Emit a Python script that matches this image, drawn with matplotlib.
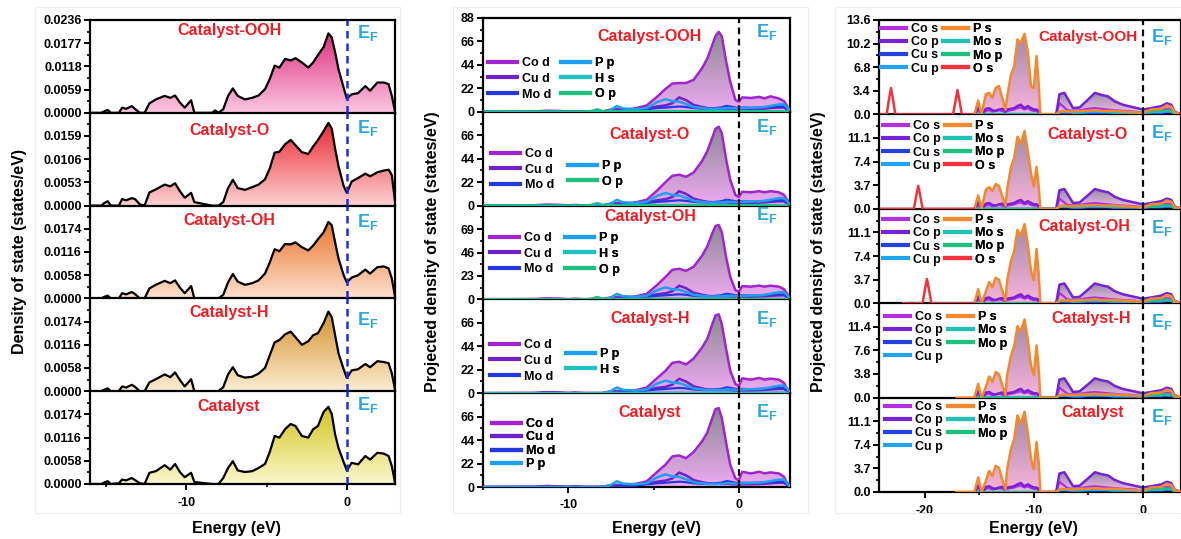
import numpy as np
import matplotlib
matplotlib.use('Agg')
import matplotlib.pyplot as plt
from matplotlib.colors import LinearSegmentedColormap
from matplotlib.ticker import MultipleLocator, AutoMinorLocator
from matplotlib.patches import Rectangle

plt.rcParams['font.family'] = ['Liberation Sans', 'DejaVu Sans']
plt.rcParams['font.weight'] = 'bold'
plt.rcParams['axes.unicode_minus'] = False
plt.rcParams['mathtext.fontset'] = 'custom'
plt.rcParams['mathtext.bf'] = 'Liberation Sans:bold'
plt.rcParams['mathtext.rm'] = 'Liberation Sans:bold'

# ---------------- data ----------------
names = ['Catalyst-OOH', 'Catalyst-O', 'Catalyst-OH', 'Catalyst-H', 'Catalyst']

# left column: total DOS (states/eV)
e_tot = [-16.0, -15.3, -15.1, -14.9, -14.7, -14.2, -14.0, -13.75, -13.4, -13.2, -12.9, -12.6,
         -12.3, -11.9, -11.35, -11.0, -10.7, -10.4, -10.1, -9.7, -9.5, -8.4, -8.2, -8.0, -7.7,
         -7.4, -7.1, -6.8, -6.35, -5.9, -5.5, -5.1, -4.8, -4.5, -4.2, -3.85, -3.5, -3.2, -2.8,
         -2.4, -2.1, -1.8, -1.45, -1.15, -0.94, -0.73, -0.52, -0.2, 0.0, 0.3, 0.7, 1.15, 1.45,
         1.9, 2.3, 2.6, 2.8, 3.0]
dos_ooh = [0, 0, 0.0004, 0.0007, 0, 0, 0.0013, 0.0010, 0.0017, 0.0010, 0, 0,
           0.0024, 0.0034, 0.0043, 0.0038, 0.0044, 0.0026, 0.0013, 0.0032, 0, 0, 0.0006, 0, 0.0009,
           0.0043, 0.0062, 0.0043, 0.0034, 0.0038, 0.0044, 0.0060, 0.0086, 0.0120, 0.0115, 0.0137,
           0.0133, 0.0139, 0.0128, 0.0115, 0.0128, 0.0147, 0.0167, 0.0202, 0.0192, 0.0154, 0.0111,
           0.0064, 0.0036, 0.0047, 0.0050, 0.0068, 0.0056, 0.0077, 0.0077, 0.0073, 0.0043, 0.0004]
dos_o = [0, 0, 0.0006, 0.0010, 0, 0, 0.0015, 0.0012, 0.0017, 0.0015, 0.0003, 0,
         0.0030, 0.0037, 0.0048, 0.0044, 0.0051, 0.0033, 0.0018, 0.0029, 0.0008, 0, 0, 0, 0.0008,
         0.0040, 0.0059, 0.0040, 0.0036, 0.0042, 0.0048, 0.0060, 0.0085, 0.0121, 0.0123, 0.0140,
         0.0150, 0.0138, 0.0122, 0.0118, 0.0135, 0.0150, 0.0170, 0.0189, 0.0176, 0.0130, 0.0090,
         0.0045, 0.0029, 0.0055, 0.0063, 0.0073, 0.0067, 0.0076, 0.0080, 0.0082, 0.0070, 0.0010]
dos_oh = [0, 0, 0.0004, 0.0007, 0, 0, 0.0013, 0.0010, 0.0016, 0.0011, 0, 0,
          0.0025, 0.0034, 0.0044, 0.0038, 0.0045, 0.0027, 0.0013, 0.0031, 0, 0, 0, 0, 0.0009,
          0.0040, 0.0061, 0.0042, 0.0034, 0.0038, 0.0045, 0.0062, 0.0090, 0.0123, 0.0118, 0.0136,
          0.0135, 0.0140, 0.0128, 0.0120, 0.0132, 0.0148, 0.0165, 0.0191, 0.0183, 0.0140, 0.0100,
          0.0058, 0.0040, 0.0052, 0.0058, 0.0072, 0.0062, 0.0078, 0.0080, 0.0075, 0.0050, 0.0005]
dos_h = [0, 0, 0.0004, 0.0007, 0, 0, 0.0012, 0.0009, 0.0016, 0.0011, 0, 0,
         0.0022, 0.0030, 0.0042, 0.0035, 0.0047, 0.0028, 0.0012, 0.0030, 0, 0, 0, 0, 0.0010,
         0.0042, 0.0060, 0.0040, 0.0034, 0.0036, 0.0044, 0.0058, 0.0090, 0.0122, 0.0128, 0.0142,
         0.0149, 0.0135, 0.0116, 0.0125, 0.0140, 0.0145, 0.0170, 0.0199, 0.0185, 0.0140, 0.0095,
         0.0055, 0.0033, 0.0052, 0.0055, 0.0068, 0.0060, 0.0075, 0.0073, 0.0070, 0.0045, 0.0004]
dos_cat = [0, 0, 0.0004, 0.0007, 0, 0.0002, 0.0011, 0.0009, 0.0015, 0.0010, 0.0002, 0,
           0.0028, 0.0032, 0.0047, 0.0036, 0.0050, 0.0030, 0.0017, 0.0028, 0.0005, 0, 0, 0, 0.0015,
           0.0040, 0.0057, 0.0034, 0.0030, 0.0032, 0.0040, 0.0050, 0.0080, 0.0120, 0.0116, 0.0137,
           0.0150, 0.0145, 0.0120, 0.0116, 0.0137, 0.0145, 0.0180, 0.0193, 0.0175, 0.0124, 0.0090,
           0.0055, 0.0034, 0.0053, 0.0049, 0.0070, 0.0061, 0.0078, 0.0076, 0.0070, 0.0045, 0.0004]
dos_tot = [dos_ooh, dos_o, dos_oh, dos_h, dos_cat]
tot_step = [0.0059, 0.0053, 0.0058, 0.0058, 0.0058]

# middle column: d/p projected DOS
e_pd = [-15, -12, -11.3, -10.5, -10.0, -9.6, -9.0, -8.0, -7.55, -7.15, -6.8, -6.4, -6.0, -5.4,
        -4.8, -4.3, -3.9, -3.5, -3.1, -2.65, -2.15, -1.85, -1.55, -1.37, -1.18, -1.0, -0.73,
        -0.5, -0.2, 0.0, 0.2, 0.7, 1.2, 1.5, 1.85, 2.35, 2.65, 2.85, 3.0]
cod_ooh = [0, 0.3, 1.0, 0.8, 0.2, 0.5, 0.1, 0.3, 2.0, 2.5, 2.2, 2.5, 3.5, 6,
           14, 21.5, 26.5, 27, 27, 30, 41, 50, 63, 71, 75, 71, 46,
           28, 11, 9.5, 13.5, 13, 14, 12.5, 14.5, 12.5, 10, 5, 0]
cod_o = [0, 0.3, 1.0, 0.7, 0.2, 0.6, 0.1, 0.3, 1.8, 2.3, 2.0, 2.3, 3.2, 5.5,
         14, 22, 28, 29, 27, 31, 42, 51, 64, 72, 74, 68, 42,
         24, 10, 8, 13, 12.5, 13.5, 12.5, 13.5, 12.5, 10, 5, 0]
cod_oh = [0, 0.3, 1.0, 0.7, 0.2, 0.6, 0.1, 0.3, 1.8, 2.3, 2.0, 2.3, 3.2, 5.5,
          14, 22, 29, 30, 28, 32, 43, 52, 65, 72, 73, 66, 40,
          22, 9, 7.5, 13, 12.5, 13.5, 12.5, 13.5, 12.5, 10, 5, 0]
cod_h = [0, 0.3, 1.0, 0.7, 0.2, 0.6, 0.1, 0.2, 1.7, 2.1, 2.0, 2.2, 3.0, 5.4,
         14, 21, 28.5, 29.5, 27, 32.5, 43, 51, 65, 73, 74, 65, 40,
         21, 8.5, 7, 14, 12.7, 14.3, 12.8, 13.7, 12.7, 9.6, 3.5, 0]
cod_cat = [0, 0.3, 1.0, 0.6, 0.2, 0.8, 0.1, 0.2, 1.6, 2.0, 2.0, 2.2, 3.0, 5.4,
           14, 21, 28.7, 29.6, 27, 32.8, 43, 51, 65, 73, 74, 65, 40,
           20.7, 8, 6.4, 14.3, 12.7, 14.3, 12.8, 13.7, 12.7, 9.6, 3.0, 0]
co_d = [cod_ooh, cod_o, cod_oh, cod_h, cod_cat]
cu_d = [0, 0, 0.3, 0.2, 0, 0.2, 0, 0, 0.5, 0.8, 0.8, 1.0, 2.0, 3.0,
        5.0, 6.0, 8.0, 13.5, 11, 6.5, 4.5, 3.5, 3.2, 3.0, 3.0, 3.0, 3.0,
        2.8, 2.5, 2.2, 2.5, 2.5, 2.8, 3.0, 3.5, 4.0, 4.0, 2.0, 0]
mo_d = [0, 0, 0.2, 0.1, 0, 0, 0, 0, 0.5, 1.0, 1.2, 1.3, 1.5, 2.5,
        3.5, 4.0, 4.5, 5.0, 4.5, 3.5, 3.0, 3.0, 3.2, 3.5, 3.8, 4.2, 5.5,
        5.0, 4.0, 3.8, 4.0, 3.8, 4.0, 4.2, 4.5, 5.0, 5.0, 2.5, 0]
p_p = [0, 0, 0, 0, 0, 0, 0, 0, 1.5, 5.4, 3.2, 2.8, 2.5, 3.5,
       9, 11.8, 10, 9.5, 7.3, 4.5, 3.5, 2.9, 2.8, 2.8, 3.0, 3.0, 3.5,
       3.5, 3.2, 3.2, 3.5, 3.8, 4.0, 4.5, 5.5, 7.0, 7.0, 4.0, 0]
h_s = [0, 0, 0, 0, 0, 0, 0, 0, 0.2, 0.4, 0.3, 0.3, 0.3, 0.4,
       0.5, 0.6, 0.6, 0.6, 0.5, 0.4, 0.4, 0.4, 0.4, 0.4, 0.4, 0.4, 0.5,
       0.5, 0.4, 0.4, 0.4, 0.4, 0.4, 0.5, 0.5, 0.6, 0.6, 0.3, 0]
e_op = [-15, -9.0, -8.6, -8.3, -8.0, -7.6, -5.0, -3.0, -1.0, 0.0, 2.0, 3.0]
o_p = [0, 0, 1.0, 2.5, 0.8, 0.4, 0.5, 0.6, 0.5, 0.4, 0.5, 0]
pd_step = [22, 22, 23, 22, 22]
has_h = [True, False, True, True, False]
has_o = [True, True, True, False, False]

# right column: s/p projected DOS
e_sp = [-15.45, -15.1, -14.8, -14.4, -14.1, -13.8, -13.5, -13.2, -12.9, -12.6, -12.45, -12.1,
        -11.8, -11.5, -11.2, -10.85, -10.55, -10.25, -10.0, -9.75, -9.55, -9.4, -7.95, -7.65,
        -7.2, -6.9, -6.4, -5.8, -5.05, -4.4, -3.8, -3.2, -2.6, -1.85, -0.8, 0.0, 0.75, 1.7,
        2.2, 2.6, 2.9, 3.5]
ps_tail = [0, 0.4, 0.5, 0.4, 0.4, 0.5, 0.5, 0.6, 0.5, 0.5, 0.5, 0.4, 0.3, 0.2, 0.7, 0.8,
           1.3, 1.1, 0.3, 0]
ps_ooh = [0, 2.0, 0, 2.9, 3.1, 2.4, 3.8, 4.1, 2.4, 0.7, 2.5, 5.7,
          6.9, 10.8, 10.3, 11.6, 9.0, 4.0, 3.8, 8.4, 4.3, 0] + ps_tail
ps_o = [0, 2.1, 0, 3.0, 3.4, 2.8, 3.9, 3.6, 2.0, 0.5, 3.0, 6.5,
        8.0, 11.3, 10.2, 12.2, 9.0, 5.5, 3.5, 6.6, 3.5, 0] + ps_tail
ps_oh = [0, 2.2, 0, 1.8, 3.3, 2.5, 4.0, 3.7, 2.0, 0.4, 3.5, 6.6,
         8.2, 11.5, 10.6, 12.4, 9.2, 5.0, 3.6, 8.5, 4.5, 0] + ps_tail
ps_h = [0, 2.2, 0, 1.7, 3.4, 2.5, 4.1, 3.8, 2.0, 0.4, 3.6, 6.7,
        8.3, 11.5, 10.7, 12.6, 9.3, 5.1, 3.6, 8.4, 4.6, 0] + ps_tail
ps_cat = [0, 2.3, 0, 1.7, 3.3, 2.5, 4.1, 3.8, 2.0, 0.4, 3.6, 6.7,
          8.3, 12.0, 10.7, 12.6, 9.3, 5.1, 3.6, 7.8, 4.6, 0] + ps_tail
p_s = [ps_ooh, ps_o, ps_oh, ps_h, ps_cat]
ps_start = [-15.5, -15.5, -15.5, -17.1, -17.1]
co_p = [0, 1.0, 0, 0.8, 0.9, 0.6, 0.5, 0.7, 0.8, 0.5, 0.7, 0.8,
        0.9, 1.2, 1.4, 0.9, 1.2, 0.9, 0.7, 0.7, 0.5, 0, 0, 2.9,
        3.1, 2.3, 0.9, 1.0, 2.1, 3.1, 2.8, 2.6, 1.9, 1.4, 1.0, 0.7, 0.9, 1.2,
        1.6, 1.4, 0.4, 0]
co_s = [0, 0.6, 0, 0.5, 0.6, 0.4, 0.5, 0.6, 0.5, 0.3, 0.5, 0.6,
        0.7, 0.9, 1.0, 0.7, 0.9, 0.6, 0.5, 0.5, 0.3, 0, 0, 1.6,
        1.0, 0.6, 0.5, 0.6, 0.8, 0.9, 0.8, 0.7, 0.6, 0.5, 0.4, 0.2, 0.5, 0.6,
        0.8, 0.7, 0.2, 0]
cu_s = [0, 0, 0, 0, 0, 0, 0, 0, 0, 0, 0, 0,
        0, 0, 0, 0, 0, 0, 0, 0, 0, 0, 0, 0.2,
        0.2, 0.2, 0.1, 0.1, 0.2, 0.2, 0.2, 0.2, 0.1, 0.1, 0.1, 0.1, 0.2, 0.2,
        0.3, 0.3, 0.1, 0]
cu_p = [0, 0, 0, 0, 0, 0, 0, 0, 0, 0, 0, 0,
        0, 0, 0, 0, 0, 0, 0, 0, 0, 0, 0, 0.3,
        0.3, 0.3, 0.2, 0.2, 0.3, 0.3, 0.3, 0.3, 0.2, 0.2, 0.2, 0.2, 0.3, 0.3,
        0.4, 0.4, 0.1, 0]
mo_s = [0, 0, 0, 0, 0, 0, 0, 0, 0, 0, 0, 0,
        0, 0, 0, 0, 0, 0, 0, 0, 0, 0, 0, 0.3,
        0.4, 0.4, 0.3, 0.3, 0.4, 0.5, 0.4, 0.3, 0.3, 0.3, 0.3, 0.2, 0.3, 0.4,
        0.5, 0.4, 0.1, 0]
mo_p = [0, 0, 0, 0, 0, 0, 0, 0, 0, 0, 0, 0,
        0, 0, 0, 0, 0, 0, 0, 0, 0, 0, 0, 0.4,
        0.5, 0.5, 0.4, 0.4, 0.5, 0.6, 0.5, 0.4, 0.4, 0.3, 0.3, 0.3, 0.4, 0.5,
        0.6, 0.5, 0.1, 0]
e_os = [[-24.5, -23.5, -23.3, -23.1, -22.9, -22.7, -17.4, -17.2, -17.0, -16.8, -16.6, -15.5],
        [-24.5, -21.0, -20.8, -20.6, -20.4, -20.2, -15.5],
        [-22.0, -20.2, -20.0, -19.8, -19.6, -19.4, -15.5]]
o_s = [[0, 0, 2.0, 3.8, 2.0, 0, 0, 1.8, 3.5, 1.8, 0, 0],
       [0, 0, 1.9, 3.6, 1.9, 0, 0],
       [0, 0, 2.0, 3.8, 2.0, 0, 0]]
sp_step = [3.4, 3.7, 3.7, 3.8, 3.7]

# ---------------- figure ----------------
W, H = 1181, 539
fig = plt.figure(figsize=(W / 100, H / 100), dpi=100)


def col_axes(x0, x1, top, bottom):
    h = (bottom - top) / 5
    return [fig.add_axes([x0 / W, 1 - (top + (i + 1) * h) / H, (x1 - x0) / W, h / H])
            for i in range(5)]


def grad_fill(ax, x, y, c_top, c_bot, z=1):
    poly = ax.fill_between(x, 0, y, color='none', lw=0)
    cmap = LinearSegmentedColormap.from_list('g', [c_bot, c_top])
    img = ax.imshow(np.linspace(0, 1, 256).reshape(-1, 1), cmap=cmap, aspect='auto',
                    origin='lower', extent=[min(x), max(x), 0, max(y)], zorder=z)
    img.set_clip_path(poly.get_paths()[0], ax.transData)


def style(ax, xlim, step, fmt, i):
    ax.set_xlim(xlim)
    ax.set_ylim(0, 4 * step)
    ticks = [k * step for k in range(5)]
    labs = [fmt % t for t in ticks]
    if i > 0:
        labs[-1] = ''
        ax.spines['top'].set_visible(False)
    ax.set_yticks(ticks)
    ax.set_yticklabels(labs)
    ax.yaxis.set_minor_locator(AutoMinorLocator(2))
    ax.xaxis.set_major_locator(MultipleLocator(10))
    ax.xaxis.set_minor_locator(MultipleLocator(5))
    for s in ax.spines.values():
        s.set_linewidth(1.6)
    ax.tick_params(which='major', direction='out', length=4, width=1.4, labelsize=9, pad=2)
    ax.tick_params(which='minor', direction='out', length=2.5, width=1.2)
    if i < 4:
        ax.tick_params(axis='x', which='both', bottom=False, labelbottom=False)
    else:
        ax.tick_params(axis='x', pad=5)
    ax.set_facecolor('none')


def legend(ax, handles, labels, x, y, fs, hl, sp):
    leg = ax.legend(handles, labels, loc='upper left', bbox_to_anchor=(x / W, 1 - y / H),
                    bbox_transform=fig.transFigure, frameon=False, handlelength=hl,
                    handletextpad=0.4, labelspacing=sp, borderpad=0, borderaxespad=0,
                    prop={'weight': 'bold', 'size': fs})
    for h in leg.legend_handles:
        h.set_linewidth(3)
    ax.add_artist(leg)


def ftext(x, y, s, **kw):
    fig.text(x / W, 1 - y / H, s, ha='center', va='center', fontweight='bold', **kw)


# faint column frames
for bx0, bx1 in [(35, 400), (453, 808), (835, 1181)]:
    fig.patches.append(Rectangle((bx0 / W, 1 - 513 / H), (bx1 - bx0) / W, 506 / H,
                                 transform=fig.transFigure, fill=False, ec='#ececec', lw=0.8))

EF = r'$\mathbf{E}_\mathbf{F}$'
red = '#f01c24'
efc = '#2aa8e0'

# left column
axL = col_axes(90, 395, 20, 484)
tops = ['#dd2f7e', '#ec2a34', '#ea742a', '#d6922a', '#d4c41e']
bots = ['#fcc8e2', '#fcd2d2', '#fde1cf', '#fbecd2', '#faf7cc']
name_y = [30, 130, 220, 313, 407]
ef_y = [33, 128, 222, 320, 405]
for i, ax in enumerate(axL):
    grad_fill(ax, e_tot, dos_tot[i], tops[i], bots[i])
    ax.plot(e_tot, dos_tot[i], color='k', lw=1.6, zorder=3)
    ax.axvline(0, color='#1a2ee6', ls=(0, (3, 2)), lw=1.8, zorder=4)
    style(ax, (-16, 3), tot_step[i], '%.4f', i)
    ftext(229, name_y[i], names[i], color=red, fontsize=11.5)
    ftext(368, ef_y[i], EF, color=efc, fontsize=13)
ftext(236, 528, 'Energy (eV)', fontsize=11.5)
fig.text(20 / W, 1 - 252 / H, 'Density of state (states/eV)', rotation=90, ha='center',
         va='center', fontsize=11.5, fontweight='bold')

# middle column
axM = col_axes(483, 790, 18, 487)
name_y = [37, 135, 217, 319, 413]
ef_y = [32, 127, 215, 319, 412]
leg1 = [(488, 57), (491, 148), (490, 232), (490, 339), (492, 418)]
leg2 = [(561, 57), (568, 160), (565, 232), (566, 348), None]
for i, ax in enumerate(axM):
    grad_fill(ax, e_pd, co_d[i], '#8c8a92', '#efaaf3')
    l_cod, = ax.plot(e_pd, co_d[i], color='#a224d0', lw=1.8, zorder=3)
    l_cud, = ax.plot(e_pd, cu_d, color='#6e22c8', lw=1.8, zorder=3)
    l_mod, = ax.plot(e_pd, mo_d, color='#2438e0', lw=1.6, zorder=3)
    l_pp, = ax.plot(e_pd, p_p, color='#1ea0f0', lw=1.8, zorder=3)
    right_h, right_l = [l_pp], ['P p']
    if has_h[i]:
        l_hs, = ax.plot(e_pd, h_s, color='#1fc2c0', lw=1.6, zorder=3)
        right_h.append(l_hs)
        right_l.append('H s')
    if has_o[i]:
        l_op, = ax.plot(e_op, o_p, color='#1ec080', lw=1.6, zorder=3)
        right_h.append(l_op)
        right_l.append('O p')
    ax.axvline(0, color='k', ls=(0, (3, 2)), lw=1.6, zorder=4)
    style(ax, (-15, 3), pd_step[i], '%d', i)
    ftext(650, name_y[i], names[i], color=red, fontsize=11.5)
    ftext(767, ef_y[i], EF, color=efc, fontsize=13)
    if i < 4:
        legend(ax, [l_cod, l_cud, l_mod], ['Co d', 'Cu d', 'Mo d'], *leg1[i], 9, 2.3, 0.3)
        legend(ax, right_h, right_l, *leg2[i], 9, 2.3, 0.3)
    else:
        legend(ax, [l_cod, l_cud, l_mod, l_pp], ['Co d', 'Cu d', 'Mo d', 'P p'],
               *leg1[i], 9, 2.3, 0.12)
ftext(656, 528, 'Energy (eV)', fontsize=11.5)
fig.text(432 / W, 1 - 252 / H, 'Projected density of state (states/eV)', rotation=90,
         ha='center', va='center', fontsize=11.5, fontweight='bold')

# right column
axR = col_axes(879, 1181, 20, 492)
name_y = [37, 135, 226, 318, 412]
ef_y = [37, 133, 228, 322, 417]
leg1 = [(881, 23), (883, 120), (883, 214), (885, 311), (885, 401)]
leg2 = [(943, 23), (945, 120), (945, 214), (948, 311), (948, 401)]
name_x = [1088, 1088, 1084, 1091, 1093]
for i, ax in enumerate(axR):
    ex = [ps_start[i]] + e_sp
    ey = [0] + p_s[i]
    grad_fill(ax, ex, ey, '#a288a8', '#f8b4da')
    grad_fill(ax, e_sp, co_p, '#9a88a8', '#f0c0e8', z=1.2)
    l_cos, = ax.plot(e_sp, co_s, color='#b42ee0', lw=1.6, zorder=3)
    l_cop, = ax.plot(e_sp, co_p, color='#7424d4', lw=1.8, zorder=3)
    l_cus, = ax.plot(e_sp, cu_s, color='#2442e0', lw=1.4, zorder=3)
    l_cup, = ax.plot(e_sp, cu_p, color='#1ea4f0', lw=1.4, zorder=3)
    l_mos, = ax.plot(e_sp, mo_s, color='#1fc2b4', lw=1.4, zorder=3)
    l_mop, = ax.plot(e_sp, mo_p, color='#1ec080', lw=1.4, zorder=3)
    l_ps, = ax.plot(ex, ey, color='#f28a2c', lw=1.8, zorder=3.5)
    right_h, right_l = [l_ps, l_mos, l_mop], ['P s', 'Mo s', 'Mo p']
    if i < 3:
        l_os, = ax.plot(e_os[i], o_s[i], color='#f2333e', lw=1.8, zorder=3.6)
        right_h.append(l_os)
        right_l.append('O s')
    ax.axvline(0, color='k', ls=(0, (3, 2)), lw=1.6, zorder=4)
    style(ax, (-24.2, 3.5), sp_step[i], '%.1f', i)
    ftext(name_x[i], name_y[i], names[i], color=red, fontsize=11.5 if i else 11)
    ftext(1162, ef_y[i], EF, color=efc, fontsize=13)
    legend(ax, [l_cos, l_cop, l_cus, l_cup], ['Co s', 'Co p', 'Cu s', 'Cu p'],
           *leg1[i], 9, 2.0, 0.1)
    legend(ax, right_h, right_l, *leg2[i], 9, 2.0, 0.1)
ftext(1033, 528, 'Energy (eV)', fontsize=11.5)
fig.text(818 / W, 1 - 252 / H, 'Projected density of state (states/eV)', rotation=90,
         ha='center', va='center', fontsize=11.5, fontweight='bold')

fig.savefig('out.png', dpi=100)
